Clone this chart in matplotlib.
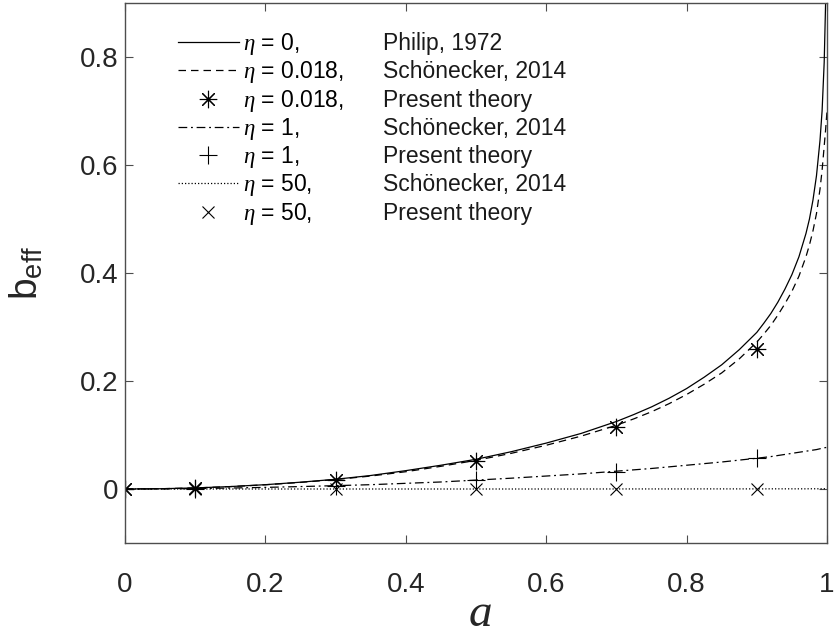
import matplotlib
matplotlib.use("Agg")
import matplotlib.pyplot as plt

plt.rcParams['font.family'] = ['Liberation Sans', 'DejaVu Sans']
plt.rcParams['mathtext.fontset'] = 'custom'
plt.rcParams['mathtext.rm'] = 'Liberation Sans'
plt.rcParams['mathtext.it'] = 'Liberation Serif:italic'
plt.rcParams['mathtext.bf'] = 'Liberation Sans:bold'

# ---- data ----
a_curve = [0, 0.05, 0.1, 0.15, 0.2, 0.25, 0.3, 0.35, 0.4, 0.45, 0.5, 0.55, 0.6,
           0.65, 0.7, 0.725, 0.75, 0.775, 0.8, 0.825, 0.85, 0.875, 0.9, 0.91,
           0.92, 0.93, 0.94, 0.95, 0.96, 0.97, 0.975, 0.98, 0.985, 0.99, 0.993,
           0.996, 0.998, 1.0]
b_philip = [0, 0.0005, 0.002, 0.0045, 0.008, 0.0126, 0.018, 0.025, 0.034, 0.044,
            0.055, 0.069, 0.085, 0.103, 0.125, 0.138, 0.152, 0.168, 0.186,
            0.207, 0.23, 0.258, 0.29, 0.307, 0.325, 0.346, 0.37, 0.397, 0.43,
            0.473, 0.50, 0.535, 0.58, 0.645, 0.70, 0.79, 0.90, 1.2]
b_sch_0018 = [0, 0.0005, 0.002, 0.0044, 0.0078, 0.0122, 0.0175, 0.024, 0.032,
              0.042, 0.053, 0.066, 0.081, 0.098, 0.118, 0.13, 0.143, 0.158,
              0.175, 0.194, 0.215, 0.241, 0.272, 0.287, 0.303, 0.322, 0.343,
              0.366, 0.394, 0.43, 0.452, 0.478, 0.51, 0.555, 0.59, 0.635,
              0.665, 0.70]
b_sch_1 = [0, 0.0002, 0.0008, 0.0018, 0.003, 0.0045, 0.0062, 0.008, 0.0105,
           0.013, 0.0165, 0.02, 0.024, 0.028, 0.033, 0.0355, 0.038, 0.041,
           0.044, 0.047, 0.05, 0.0535, 0.057, 0.0585, 0.06, 0.062, 0.064,
           0.066, 0.068, 0.07, 0.071, 0.072, 0.073, 0.0745, 0.0755, 0.0763,
           0.0767, 0.077]
b_sch_50 = [0, 0, 0, 0, 0, 0, 0, 0, 0, 0, 0, 0, 0, 0, 0.0001, 0.0001, 0.0001,
            0.0001, 0.0001, 0.0002, 0.0002, 0.0002, 0.0002, 0.0002, 0.0003,
            0.0003, 0.0003, 0.0003, 0.0003, 0.0003, 0.0004, 0.0004, 0.0004,
            0.0004, 0.0004, 0.0005, 0.0005, 0.0005]

a_pts = [0, 0.1, 0.3, 0.5, 0.7, 0.9]
b_pres_0018 = [0, 0.001, 0.017, 0.052, 0.114, 0.26]
b_pres_1 = [0, 0.0006, 0.006, 0.017, 0.032, 0.057]
b_pres_50 = [0, 0, 0, 0, 0, 0.0005]

labels_left = [r"$\eta$ = 0,", r"$\eta$ = 0.018,", r"$\eta$ = 0.018,",
               r"$\eta$ = 1,", r"$\eta$ = 1,", r"$\eta$ = 50,", r"$\eta$ = 50,"]
labels_right = ["Philip, 1972", "Schönecker, 2014", "Present theory",
                "Schönecker, 2014", "Present theory", "Schönecker, 2014",
                "Present theory"]

x_ticks = [0, 0.2, 0.4, 0.6, 0.8, 1]
x_ticklabels = ["0", "0.2", "0.4", "0.6", "0.8", "1"]
y_ticks = [0, 0.2, 0.4, 0.6, 0.8]
y_ticklabels = ["0", "0.2", "0.4", "0.6", "0.8"]

# ---- figure ----
fig = plt.figure(figsize=(8.34, 6.38), dpi=100)
ax = fig.add_axes([125/834, 1 - 543/638, (827-125)/834, (543-3)/638])

lw = 0.9
k = 'black'
asterisk = (8, 2, 0)
h1, = ax.plot(a_curve, b_philip, '-', color=k, lw=lw)
h2, = ax.plot(a_curve, b_sch_0018, color=k, lw=lw, linestyle=(0, (6, 4)))
h3, = ax.plot(a_pts, b_pres_0018, linestyle='none', marker=asterisk, ms=12.5,
              mec=k, mew=0.8, color=k)
h4, = ax.plot(a_curve, b_sch_1, color=k, lw=lw, linestyle=(0, (7, 3, 1.5, 3)))
h5, = ax.plot(a_pts, b_pres_1, linestyle='none', marker='+', ms=12.5, mec=k,
              mew=0.8, color=k)
h6, = ax.plot(a_curve, b_sch_50, color=k, lw=lw, linestyle=(0, (1, 1.6)))
h7, = ax.plot(a_pts, b_pres_50, linestyle='none', marker='x', ms=8.5, mec=k,
              mew=0.8, color=k)

ax.set_xlim(0, 1)
ax.set_ylim(-0.1, 0.9)
ax.set_xticks(x_ticks)
ax.set_xticklabels(x_ticklabels)
ax.set_yticks(y_ticks)
ax.set_yticklabels(y_ticklabels)
axcol = '#4d4d4d'
for s in ax.spines.values():
    s.set_color(axcol)
    s.set_linewidth(1.0)
ax.tick_params(direction='in', top=True, right=True, length=6, width=0.8,
               color=axcol, labelsize=20, labelcolor='#262626')
ax.tick_params(axis='x', pad=21)
ax.tick_params(axis='y', pad=5)

ax.set_xlabel('a', family='Liberation Serif', style='italic', fontsize=34,
              color='#262626')
ax.xaxis.set_label_coords(0.506, (543 - 626) / 540)
ax.xaxis.label.set_verticalalignment('baseline')
ax.set_ylabel(r'b$_{\mathrm{eff}}$', fontsize=28, color='#262626')
ax.yaxis.set_label_coords(-0.114, 0.5)

handles = [h1, h2, h3, h4, h5, h6, h7]
leg = ax.legend(handles, labels_left, loc='upper left',
                bbox_to_anchor=(53/702, 1 - 28/540), frameon=False,
                fontsize=16.5, handlelength=2.65, handletextpad=0.2,
                labelspacing=0.1, borderpad=0, borderaxespad=0, numpoints=1)

fig.canvas.draw()
renderer = fig.canvas.get_renderer()
texts = leg.get_texts()
x0 = min(t.get_window_extent(renderer).x0 for t in texts)
inv = fig.transFigure.inverted()
for t, lab in zip(texts, labels_right):
    disp = t.get_transform().transform(t.get_position())
    fx, fy = inv.transform((x0 + 140, disp[1]))
    fig.text(fx, fy, lab, fontsize=16.5, va='baseline', ha='left',
             color='#1a1a1a')

fig.savefig('out.png', dpi=100)
